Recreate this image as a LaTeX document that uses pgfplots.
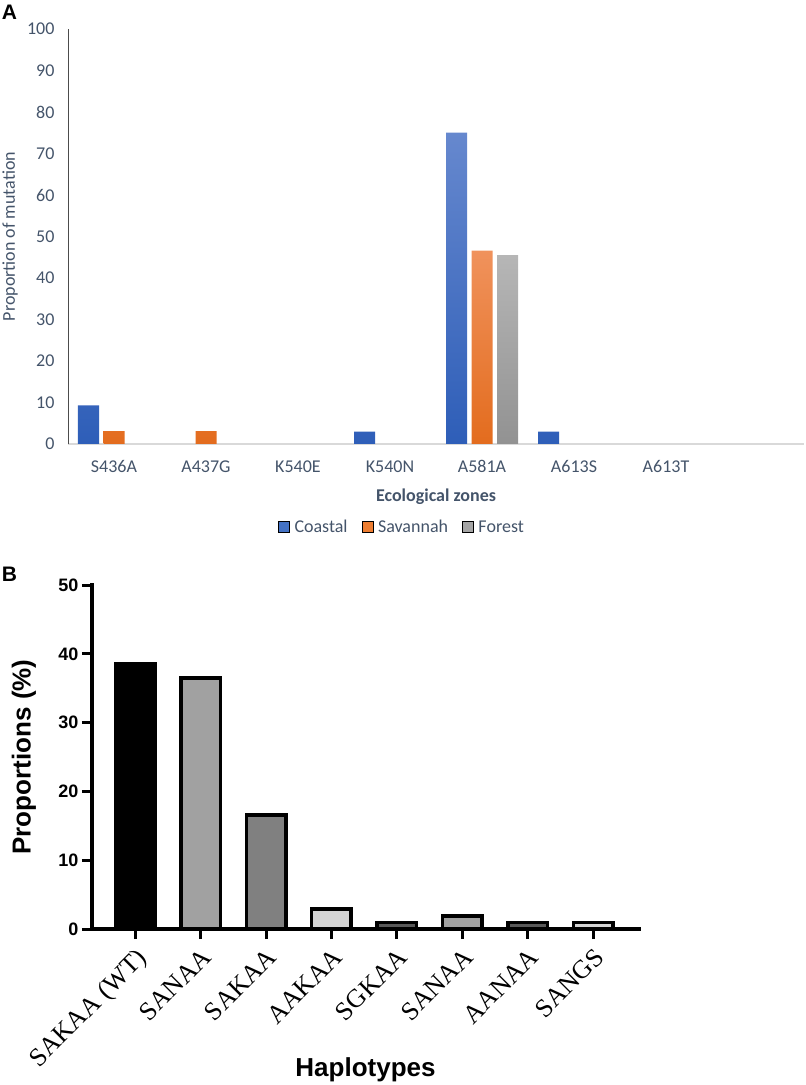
\documentclass[border=0pt]{standalone}
\usepackage{fontspec}
\setmainfont{Carlito}
\newfontfamily\lsans{Liberation Sans}
\newfontfamily\lserif{Liberation Serif}
\usepackage{pgfplots}
\pgfplotsset{compat=1.18}
\definecolor{txtA}{HTML}{44546A}
\definecolor{blueT}{HTML}{6688CE}
\definecolor{blueB}{HTML}{2E5EB8}
\definecolor{blueM}{HTML}{4472C4}
\definecolor{oranT}{HTML}{F0925C}
\definecolor{oranB}{HTML}{E36C1E}
\definecolor{oranM}{HTML}{ED7D31}
\definecolor{grayT}{HTML}{B6B6B6}
\definecolor{grayB}{HTML}{929292}
\definecolor{grayM}{HTML}{A5A5A5}
\begin{document}
\begin{tikzpicture}[x=1pt,y=1pt]
\useasboundingbox (0,0) rectangle (806,1085);
\node[font=\lsans\bfseries\fontsize{21}{23}\selectfont] at (9.5,1073) {A};
\node[font=\lsans\bfseries\fontsize{21}{23}\selectfont] at (9.5,511) {B};
% ---------------- Panel A
\begin{axis}[
  at={(68pt,641pt)}, anchor=south west,
  width=736pt, height=415pt, scale only axis,
  xmin=-0.5, xmax=7.5, ymin=0, ymax=100,
  axis x line*=bottom, axis y line*=left,
  x axis line style={-, draw=black!15, line width=1.5pt},
  y axis line style={-, draw=black!70, line width=0.8pt},
  xtick={0,...,6},
  xticklabels={S436A,A437G,K540E,K540N,A581A,A613S,A613T},
  ytick={0,10,...,100},
  major tick length=0pt,
  /pgf/number format/assume math mode=true,
  tick label style={font=\fontsize{18}{20}\selectfont, text=txtA},
  yticklabel style={xshift=-10pt},
  xticklabel style={yshift=-13pt},
  ylabel={Proportion of mutation},
  ylabel style={at={(axis description cs:-0.0788,0.5)}, anchor=center, font=\fontsize{18}{20}\selectfont, text=txtA},
  xlabel={Ecological zones},
  xlabel style={at={(axis description cs:0.5,-0.1277)}, anchor=center, font=\bfseries\fontsize{18}{20}\selectfont, text=txtA},
  legend image code/.code={\fill[#1] (0pt,-5.5pt) rectangle (11pt,5.5pt); \path (14pt,0pt);},
  legend style={at={(axis description cs:0.4538,-0.2)}, anchor=center, draw=none,
    font=\fontsize{18}{20}\selectfont, text=txtA, legend columns=-1,
    /tikz/every even column/.append style={column sep=12pt}},
]
\addlegendimage{fill=blueM}
\addlegendimage{fill=oranM}
\addlegendimage{fill=grayM}
\addplot[ybar, bar width=21pt, bar shift=-25.5pt, draw=none, top color=blueT, bottom color=blueB, forget plot]
  coordinates {(0,9.3) (3,3.0) (4,75.0) (5,3.0)};
\addplot[ybar, bar width=21pt, bar shift=0pt, draw=none, top color=oranT, bottom color=oranB, forget plot]
  coordinates {(0,3.1) (1,3.1) (4,46.6)};
\addplot[ybar, bar width=21pt, bar shift=25.5pt, draw=none, top color=grayT, bottom color=grayB, forget plot]
  coordinates {(4,45.4)};
\legend{Coastal,Savannah,Forest}
\end{axis}
% ---------------- Panel B
\begin{axis}[
  at={(92pt,156pt)}, anchor=south west,
  width=547pt, height=344pt, scale only axis,
  xmin=-0.66, xmax=7.70, ymin=0, ymax=50,
  axis x line*=bottom, axis y line*=left,
  axis line style={-, line width=3.5pt, black, line cap=rect},
  tick style={line width=3pt, black},
  major tick length=10pt, tick align=outside,
  xtick={0,...,7},
  xticklabels={SAKAA (WT),SANAA,SAKAA,AAKAA,SGKAA,SANAA,AANAA,SANGS},
  ytick={0,10,...,50},
  /pgf/number format/assume math mode=true,
  yticklabel style={font=\lsans\bfseries\fontsize{18}{20}\selectfont},
  xticklabel style={font=\lserif\fontsize{26}{28}\selectfont, rotate=45, anchor=north east, inner sep=1pt},
  xticklabel shift=6pt,
  ylabel={Proportions (\%)},
  ylabel style={at={(axis description cs:-0.1243,0.5)}, anchor=center, font=\lsans\bfseries\fontsize{26}{28}\selectfont},
  xlabel={Haplotypes},
  xlabel style={at={(axis description cs:0.5,-0.41)}, anchor=center, font=\lsans\bfseries\fontsize{26}{28}\selectfont},
]
\addplot[ybar, bar width=39.5pt, bar shift=0pt, draw=black, line width=3.5pt, fill=black]
  coordinates {(0,38.5)};
\addplot[ybar, bar width=39.5pt, bar shift=0pt, draw=black, line width=3.5pt, fill=black!37]
  coordinates {(1,36.5) (5,1.9)};
\addplot[ybar, bar width=39.5pt, bar shift=0pt, draw=black, line width=3.5pt, fill=black!50]
  coordinates {(2,16.6)};
\addplot[ybar, bar width=39.5pt, bar shift=0pt, draw=black, line width=3.5pt, fill=black!17]
  coordinates {(3,2.9) (7,0.96)};
\addplot[ybar, bar width=39.5pt, bar shift=0pt, draw=black, line width=3.5pt, fill=black!65]
  coordinates {(4,0.96) (6,0.96)};
\end{axis}
\end{tikzpicture}
\end{document}
